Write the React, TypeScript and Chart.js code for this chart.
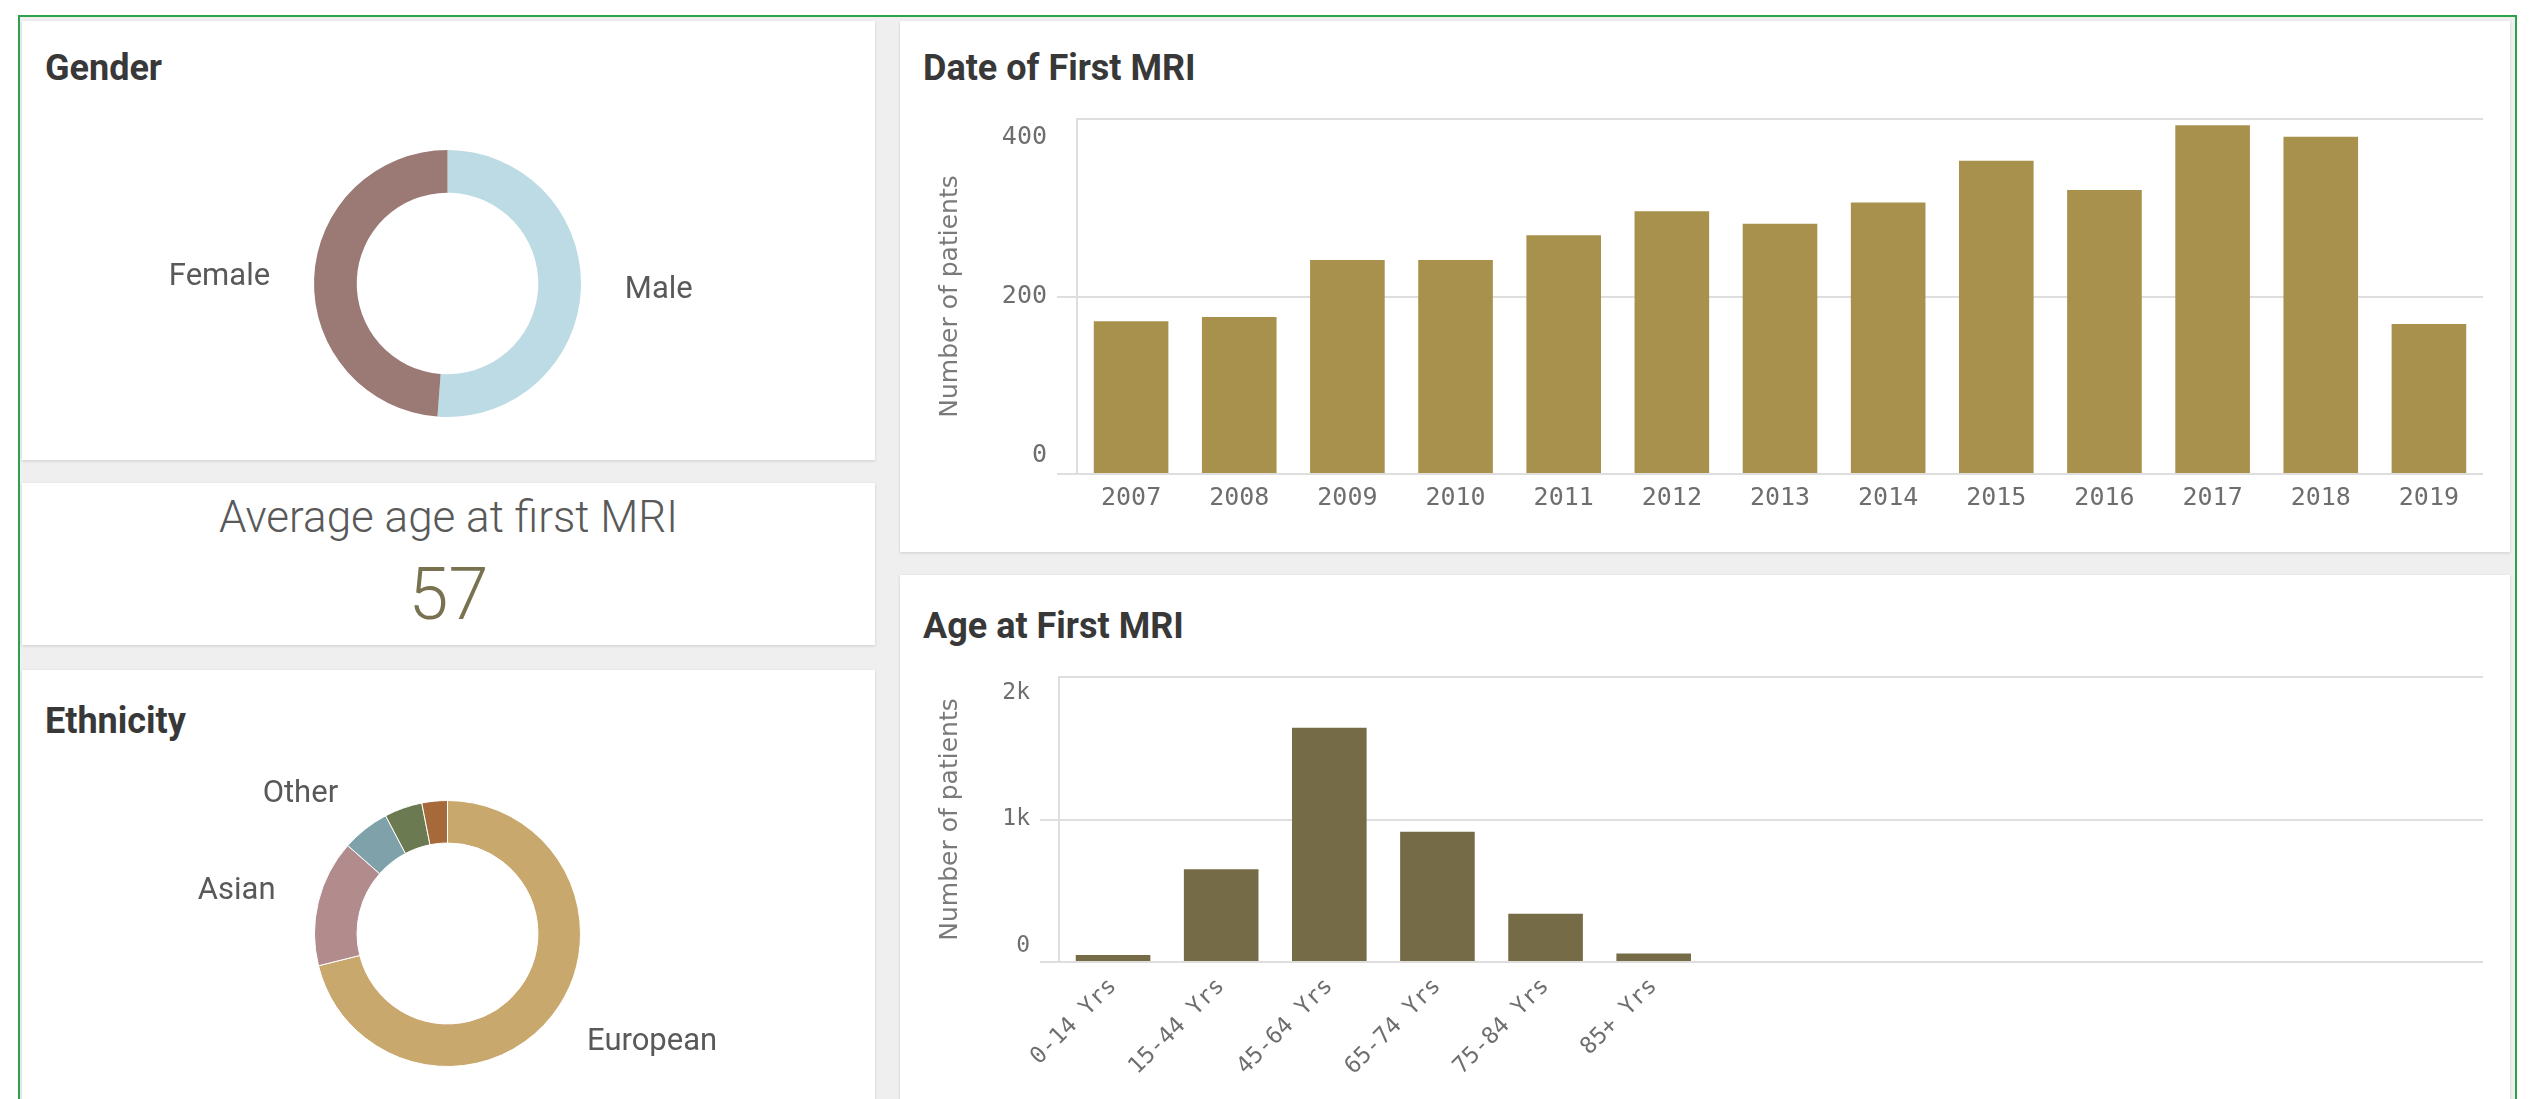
import React, { useEffect, useRef } from "react";
import { Chart, registerables } from "chart.js";

Chart.register(...registerables);

// ---------- DATA ----------
const genderLabels = ["Male", "Female"];
const genderValues = [51.2, 48.8];
const genderColors = ["#bddbe4", "#9b7a76"];

const ethnicityLabels = ["European", "Asian", "Other", "Māori", "Pacific"];
const ethnicityValues = [71.1, 15.4, 5.8, 4.6, 3.1];
const ethnicityColors = ["#c9a86e", "#b28b8d", "#7fa1aa", "#6b7a50", "#a66a3a"];

const years = ["2007", "2008", "2009", "2010", "2011", "2012", "2013", "2014", "2015", "2016", "2017", "2018", "2019"];
const patientsPerYear = [172, 177, 241, 241, 269, 296, 282, 306, 353, 320, 393, 380, 169];
const yearAxisMax = 400;
const yearAxisStep = 200;

const ageGroups = ["0-14 Yrs", "15-44 Yrs", "45-64 Yrs", "65-74 Yrs", "75-84 Yrs", "85+ Yrs"];
const patientsPerAgeGroup = [49, 651, 1644, 914, 338, 60];
const ageAxisMax = 2000;
const ageAxisStep = 1000;

const averageAgeLabel = "Average age at first MRI";
const averageAge = 57;

// ---------- STYLE ----------
const MONO = "'DejaVu Sans Mono', monospace";
const SANS = "Roboto, 'Noto Sans', sans-serif";
const gridColor = "#dedede";
const tickColor = "#6e6e6e";
const axisTitleColor = "#7a7a7a";
const titleColor = "#383838";

const sliceLabelPlugin = {
  id: "sliceLabels",
  afterDatasetsDraw(chart: any, _args: any, opts: any) {
    const meta = chart.getDatasetMeta(0);
    const ds = chart.data.datasets[0];
    const values = ds.data as number[];
    const total = values.reduce((a, b) => a + b, 0);
    const ctx = chart.ctx as CanvasRenderingContext2D;
    ctx.save();
    ctx.font = opts.font;
    ctx.fillStyle = opts.color;
    ctx.textBaseline = "middle";
    meta.data.forEach((arc: any, i: number) => {
      if (values[i] / total < opts.minShare) return;
      const p = arc.getProps(["x", "y", "startAngle", "endAngle", "outerRadius"], true);
      const mid = (p.startAngle + p.endAngle) / 2;
      const r = p.outerRadius + opts.gap;
      const cx = p.x + Math.cos(mid) * r;
      const cy = p.y + Math.sin(mid) * r;
      ctx.textAlign = Math.cos(mid) < 0 ? "right" : "left";
      ctx.fillText(String(chart.data.labels[i]), cx, cy);
    });
    ctx.restore();
  },
};

function ChartCanvas(props: { left: number; top: number; width: number; height: number; make: () => any }) {
  const ref = useRef<HTMLCanvasElement>(null);
  useEffect(() => {
    const chart = new Chart(ref.current as HTMLCanvasElement, props.make());
    return () => chart.destroy();
  }, []);
  return (
    <canvas
      ref={ref}
      width={props.width}
      height={props.height}
      style={{ position: "absolute", left: props.left, top: props.top, width: props.width, height: props.height }}
    />
  );
}

function donutConfig(labels: string[], values: number[], colors: string[], border: number, padding: any) {
  return {
    type: "doughnut",
    data: {
      labels,
      datasets: [{ data: values, backgroundColor: colors, borderWidth: border, borderColor: "#ffffff" }],
    },
    options: {
      responsive: false,
      animation: false,
      cutout: "68%",
      layout: { padding },
      plugins: {
        legend: { display: false },
        tooltip: { enabled: false },
        sliceLabels: { font: `31px ${SANS}`, color: "#595959", gap: 44, minShare: 0.05 },
      },
    },
    plugins: [sliceLabelPlugin],
  };
}

function yTickCallback(max: number, fmt: (v: number) => string) {
  return (v: any) => {
    const s = fmt(Number(v));
    if (v === max) return ["", s];
    if (v === 0) return [s, ""];
    return s;
  };
}

function fixBox(width?: number, height?: number) {
  return (s: any) => {
    if (width !== undefined) s.width = width;
    if (height !== undefined) s.height = height;
    s.paddingTop = 0;
    s.paddingBottom = 0;
    s.paddingLeft = 0;
    s.paddingRight = 0;
  };
}

const axisTitle = {
  display: true,
  text: "Number of patients",
  font: { family: "'DejaVu Sans', sans-serif", size: 25 },
  color: axisTitleColor,
  padding: { top: 35, bottom: 0 },
};

function yearChartConfig() {
  return {
    type: "bar",
    data: {
      labels: years,
      datasets: [
        { data: patientsPerYear, backgroundColor: "#a8914d", categoryPercentage: 1, barPercentage: 0.69 },
      ],
    },
    options: {
      responsive: false,
      animation: false,
      layout: { padding: { left: 0, right: 27, top: 19, bottom: 0 } },
      plugins: { legend: { display: false }, tooltip: { enabled: false } },
      scales: {
        x: {
          grid: { display: false },
          border: { display: false },
          ticks: { font: { family: MONO, size: 25 }, color: tickColor, padding: 1, maxRotation: 0, autoSkip: false },
          afterFit: fixBox(undefined, 78),
        },
        y: {
          min: 0,
          max: yearAxisMax,
          ticks: {
            stepSize: yearAxisStep,
            font: { family: MONO, size: 25, lineHeight: 1.45 },
            color: tickColor,
            padding: 10,
            callback: yTickCallback(yearAxisMax, (v) => String(v)),
          },
          grid: {
            color: gridColor,
            lineWidth: 2,
            tickLength: 20,
            tickColor: (c: any) => (c.tick && c.tick.value === yearAxisMax ? "rgba(0,0,0,0)" : gridColor),
          },
          border: { display: true, color: gridColor, width: 2 },
          title: axisTitle,
          afterFit: fixBox(177, undefined),
        },
      },
    },
  };
}

function ageChartConfig() {
  const pts = ageGroups.map((_, i) => ({ x: i, y: patientsPerAgeGroup[i] }));
  return {
    type: "bar",
    data: {
      datasets: [{ data: pts, backgroundColor: "#766b47", categoryPercentage: 1, barPercentage: 0.69 }],
    },
    options: {
      responsive: false,
      animation: false,
      layout: { padding: { left: 0, right: 27, top: 77, bottom: 0 } },
      plugins: { legend: { display: false }, tooltip: { enabled: false } },
      scales: {
        x: {
          type: "linear",
          min: -0.5,
          max: 12.67,
          offset: false,
          grid: { display: false },
          border: { display: false },
          afterBuildTicks: (s: any) => {
            s.ticks = s.ticks.filter((t: any) => Number.isInteger(t.value));
          },
          ticks: {
            stepSize: 1,
            autoSkip: false,
            minRotation: 45,
            maxRotation: 45,
            padding: 3,
            font: { family: MONO, size: 23 },
            color: tickColor,
            callback: (v: any) => {
              const n = Number(v);
              return Number.isInteger(n) && n >= 0 && n < ageGroups.length ? ageGroups[n] : "";
            },
          },
          afterFit: fixBox(undefined, 137),
        },
        y: {
          min: 0,
          max: ageAxisMax,
          ticks: {
            stepSize: ageAxisStep,
            font: { family: MONO, size: 23, lineHeight: 1.4 },
            color: tickColor,
            padding: 10,
            callback: yTickCallback(ageAxisMax, (v) => (v === 0 ? "0" : v / 1000 + "k")),
          },
          grid: {
            color: gridColor,
            lineWidth: 2,
            tickLength: 19,
            tickColor: (c: any) => (c.tick && c.tick.value === ageAxisMax ? "rgba(0,0,0,0)" : gridColor),
          },
          border: { display: true, color: gridColor, width: 2 },
          title: axisTitle,
          afterFit: fixBox(159, undefined),
        },
      },
    },
  };
}

const panel = (left: number, top: number, width: number, height: number): React.CSSProperties => ({
  position: "absolute",
  left,
  top,
  width,
  height,
  background: "#ffffff",
  boxShadow: "0 1px 3px rgba(0,0,0,0.14)",
});

const titleStyle = (left: number, top: number): React.CSSProperties => ({
  position: "absolute",
  left,
  top,
  fontFamily: SANS,
  fontWeight: 700,
  fontSize: 36,
  lineHeight: "36px",
  color: titleColor,
  whiteSpace: "nowrap",
});

export default function App() {
  return (
    <div
      style={{
        position: "absolute",
        left: 0,
        top: 0,
        width: 2544,
        height: 1099,
        background: "#ffffff",
        overflow: "hidden",
      }}
    >
      <div
        style={{
          position: "absolute",
          left: 18,
          top: 15,
          width: 2499,
          height: 1200,
          border: "2px solid #2ea24a",
          boxSizing: "border-box",
          background: "#efefef",
        }}
      />
      {/* Left column */}
      <div style={panel(22, 21, 853, 439)} />
      <div style={panel(22, 483, 853, 162)} />
      <div style={panel(22, 670, 853, 500)} />
      {/* Right column */}
      <div style={panel(900, 21, 1610, 531)} />
      <div style={panel(900, 575, 1610, 600)} />

      <div style={titleStyle(45, 50)}>Gender</div>
      <div style={titleStyle(45, 703)}>Ethnicity</div>
      <div style={titleStyle(923, 50)}>Date of First MRI</div>
      <div style={titleStyle(923, 608)}>Age at First MRI</div>

      <div
        style={{
          position: "absolute",
          left: 22,
          width: 853,
          top: 495,
          textAlign: "center",
          fontFamily: SANS,
          fontWeight: 300,
          fontSize: 44,
          lineHeight: "44px",
          color: "#595959",
          whiteSpace: "nowrap",
        }}
      >
        {averageAgeLabel}
      </div>
      <div
        style={{
          position: "absolute",
          left: 22,
          width: 853,
          top: 559,
          textAlign: "center",
          fontFamily: SANS,
          fontWeight: 300,
          fontSize: 72,
          lineHeight: "72px",
          color: "#787250",
        }}
      >
        {averageAge}
      </div>

      <ChartCanvas
        left={22}
        top={21}
        width={853}
        height={439}
        make={() => donutConfig(genderLabels, genderValues, genderColors, 0, { left: 292, right: 294, top: 129, bottom: 43 })}
      />
      <ChartCanvas
        left={22}
        top={670}
        width={853}
        height={429}
        make={() =>
          donutConfig(ethnicityLabels, ethnicityValues, ethnicityColors, 1, { left: 292, right: 294, top: 130, bottom: 32 })
        }
      />
      <ChartCanvas left={900} top={100} width={1610} height={452} make={yearChartConfig} />
      <ChartCanvas left={900} top={600} width={1610} height={499} make={ageChartConfig} />
    </div>
  );
}
